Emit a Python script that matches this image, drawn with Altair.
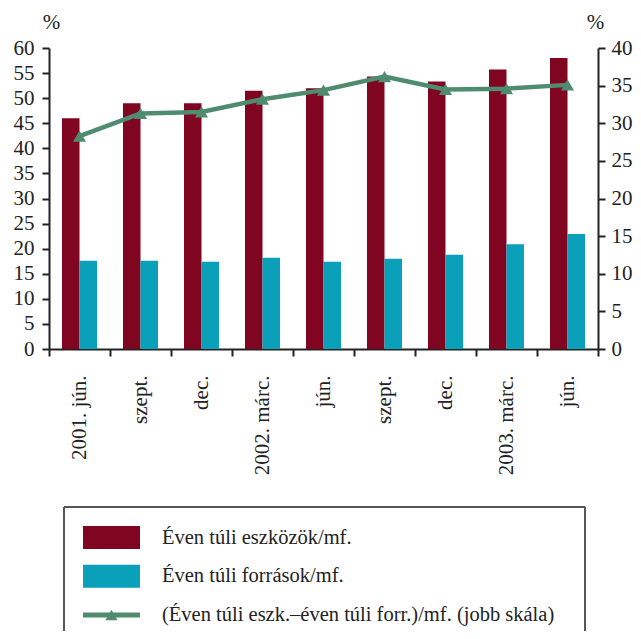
import altair as alt
import pandas as pd

categories = ["2001. jún.", "szept.", "dec.", "2002. márc.", "jún.", "szept. ", "dec. ", "2003. márc.", "jún. "]
series_names = ["Éven túli eszközök/mf.", "Éven túli források/mf."]
assets = [46.0, 49.0, 49.0, 51.5, 52.0, 54.3, 53.3, 55.7, 58.0]
liabilities = [17.6, 17.6, 17.4, 18.2, 17.4, 18.0, 18.8, 20.9, 22.9]
line_name = "(Éven túli eszk.–éven túli forr.)/mf. (jobb skála)"
difference = [28.3, 31.3, 31.5, 33.2, 34.4, 36.2, 34.5, 34.6, 35.1]

colors = ["#800520", "#0aa0ba", "#4f8c6f"]
FONT = "Liberation Serif"
AX = "#222222"

bars_df = pd.DataFrame(
    [{"cat": c, "series": series_names[0], "value": v} for c, v in zip(categories, assets)]
    + [{"cat": c, "series": series_names[1], "value": v} for c, v in zip(categories, liabilities)]
)
line_df = pd.DataFrame({"cat": categories, "value": difference})
legend_labels = series_names + [line_name]
legend_df = pd.DataFrame({"row": [0, 1, 2], "label": legend_labels})

color_scale = alt.Scale(domain=legend_labels, range=colors)

x_enc = alt.X(
    "cat:N",
    sort=categories,
    scale=alt.Scale(paddingInner=0, paddingOuter=0),
    axis=alt.Axis(
        title=None,
        labelAngle=-90,
        labelFont=FONT,
        labelFontSize=21,
        labelColor=AX,
        labelPadding=19,
        tickBand="extent",
        tickSize=7,
        tickWidth=2,
        tickColor=AX,
        domainWidth=2,
        domainColor=AX,
        labelExpr="trim(datum.label)",
    ),
)

bars = alt.Chart(bars_df).mark_bar(strokeWidth=0).encode(
    x=x_enc,
    xOffset=alt.XOffset("series:N", sort=series_names,
                        scale=alt.Scale(paddingOuter=0.743, paddingInner=0)),
    y=alt.Y("value:Q", scale=alt.Scale(domain=[0, 60], nice=False),
            axis=alt.Axis(values=list(range(0, 61, 5)), title="%", titleAngle=0,
                          titleX=2, titleY=-26, titleAlign="center", titleBaseline="middle",
                          titleFont=FONT, titleFontSize=21, titleFontWeight="normal", titleColor=AX,
                          labelFont=FONT, labelFontSize=21, labelColor=AX, labelPadding=8,
                          tickSize=7, tickWidth=2, tickColor=AX, domainWidth=2, domainColor=AX,
                          grid=False)),
    color=alt.Color("series:N", scale=color_scale, legend=None),
)

right_axis = alt.Axis(orient="right", values=list(range(0, 41, 5)), title="%", titleAngle=0,
                      titleX=-3, titleY=-26, titleAlign="center", titleBaseline="middle",
                      titleFont=FONT, titleFontSize=21, titleFontWeight="normal", titleColor=AX,
                      labelFont=FONT, labelFontSize=21, labelColor=AX, labelPadding=6,
                      tickSize=7, tickWidth=2, tickColor=AX, domainWidth=2, domainColor=AX,
                      grid=False)
y_right = alt.Y("value:Q", scale=alt.Scale(domain=[0, 40], nice=False), axis=right_axis)

line = alt.Chart(line_df).mark_line(color=colors[2], strokeWidth=4.5).encode(x=x_enc, y=y_right)
pts = alt.Chart(line_df).mark_point(shape="triangle-up", filled=True, size=170, opacity=1,
                                    color=colors[2]).encode(x=x_enc, y=y_right)
line_layer = alt.layer(line, pts)

# legend (drawn below the plot)
ly = alt.Y("row:Q", scale=alt.Scale(domain=[0, 2], range=[489.5, 567]), axis=None)
sw = alt.Chart(legend_df).transform_filter("datum.row < 2").mark_point(
    shape="M-1,-0.404H1V0.404H-1Z", size=3249, filled=True, opacity=1, strokeWidth=0
).encode(x=alt.value(62.5), y=ly,
         color=alt.Color("label:N", scale=color_scale, legend=None))
lrule = alt.Chart(legend_df).transform_filter("datum.row == 2").mark_rule(
    color=colors[2], strokeWidth=5).encode(x=alt.value(34), x2=alt.value(91), y=ly)
ltri = alt.Chart(legend_df).transform_filter("datum.row == 2").mark_point(
    shape="triangle-up", filled=True, size=150, opacity=1, color=colors[2]
).encode(x=alt.value(62.5), y=ly)
ltext = alt.Chart(legend_df).mark_text(align="left", baseline="middle", font=FONT,
                                       fontSize=20.5, color=AX).encode(
    x=alt.value(113), y=ly, text="label:N")
box_top = alt.Chart(legend_df).mark_rule(color="#555555", strokeWidth=1.5).encode(
    x=alt.value(15), x2=alt.value(536), y=alt.value(459))
box_left = alt.Chart(legend_df).mark_rule(color="#555555", strokeWidth=1.5).encode(
    x=alt.value(15), y=alt.value(459), y2=alt.value(583))
box_right = alt.Chart(legend_df).mark_rule(color="#555555", strokeWidth=1.5).encode(
    x=alt.value(536), y=alt.value(459), y2=alt.value(583))
legend_layer = alt.layer(box_top, box_left, box_right, sw, lrule, ltri, ltext)

chart = alt.layer(bars, line_layer, legend_layer).resolve_scale(
    y="independent", color="shared"
).properties(
    width=549, height=301,
    background="white",
    autosize=alt.AutoSizeParams(type="none"),
    padding={"left": 41, "top": 40, "right": 35, "bottom": 282},
).configure_view(stroke=None)

chart.save("out.html", embed_options={"renderer": "svg", "actions": False})
